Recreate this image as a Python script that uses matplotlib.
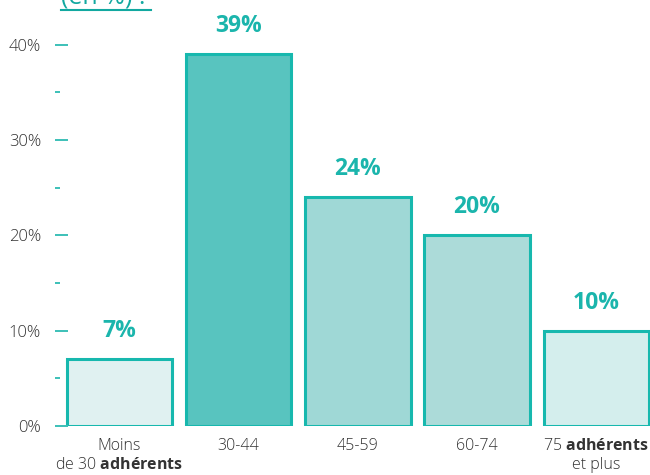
import numpy as np
import matplotlib
matplotlib.use("Agg")
import matplotlib.pyplot as plt
from matplotlib.ticker import MultipleLocator, FuncFormatter
from matplotlib.lines import Line2D

plt.rcParams["font.family"] = ["Open Sans", "DejaVu Sans"]
plt.rcParams["mathtext.fontset"] = "custom"
plt.rcParams["mathtext.rm"] = "Open Sans"
plt.rcParams["mathtext.bf"] = "Open Sans:bold"

# Répartition des structures selon le nombre d'adhérents
categories = ["Moins\nde 30 $\\mathbf{adhérents}$", "30-44", "45-59", "60-74",
              "75 $\\mathbf{adhérents}$\net plus"]
values = [7, 39, 24, 20, 10]
fills = ["#e0f1f1", "#58c4bf", "#9fd8d6", "#acdbd9", "#d4eeed"]

teal = "#17b8ae"
textCol = "#333333"

fig = plt.figure(figsize=(6.5, 4.75), dpi=100)
W, H = 650, 475
ax = fig.add_axes([55 / W, 49 / H, 595 / W, 426 / H])

x = np.arange(len(values))
ax.bar(x, values, width=0.885, color=fills, edgecolor=teal, linewidth=2.2)

for xi, v in zip(x, values):
    ax.text(xi, v + 2.3, "{}%".format(v), ha="center", va="baseline",
            color="#1bb5ac", fontsize=16.5, fontweight="bold", clip_on=False)

ax.set_xlim(-0.54, 4.45)
ax.set_ylim(0, 44.7)

# Axis cosmetics: no spines, only teal ticks
for s in ax.spines.values():
    s.set_visible(False)
ax.yaxis.set_major_locator(MultipleLocator(10))
ax.yaxis.set_minor_locator(MultipleLocator(5))
ax.yaxis.set_major_formatter(FuncFormatter(lambda v, p: "{:.0f}%".format(v)))
ax.tick_params(axis="y", which="major", direction="in", length=9.4, width=1.4,
               color="#3cc0b8", pad=10, labelsize=12, labelcolor=textCol)
ax.tick_params(axis="y", which="minor", direction="in", length=3.6, width=1.4,
               color="#3cc0b8")
ax.set_xticks(x)
ax.set_xticklabels(categories, fontsize=11.5, color=textCol, linespacing=1.2)
ax.tick_params(axis="x", length=0, pad=9)
for lbl in ax.get_yticklabels() + ax.get_xticklabels():
    lbl.set_fontweight("light")

# Titre tronqué en haut, souligné
fig.text(61 / W, 1 - 4 / H, "(en %) :", color="#12a8a0", fontsize=18,
         ha="left", va="baseline")
fig.add_artist(Line2D([61 / W, 151 / W], [1 - 9.5 / H, 1 - 9.5 / H],
                      color="#12a8a0", linewidth=1.5))

fig.savefig("out.png", dpi=100)
